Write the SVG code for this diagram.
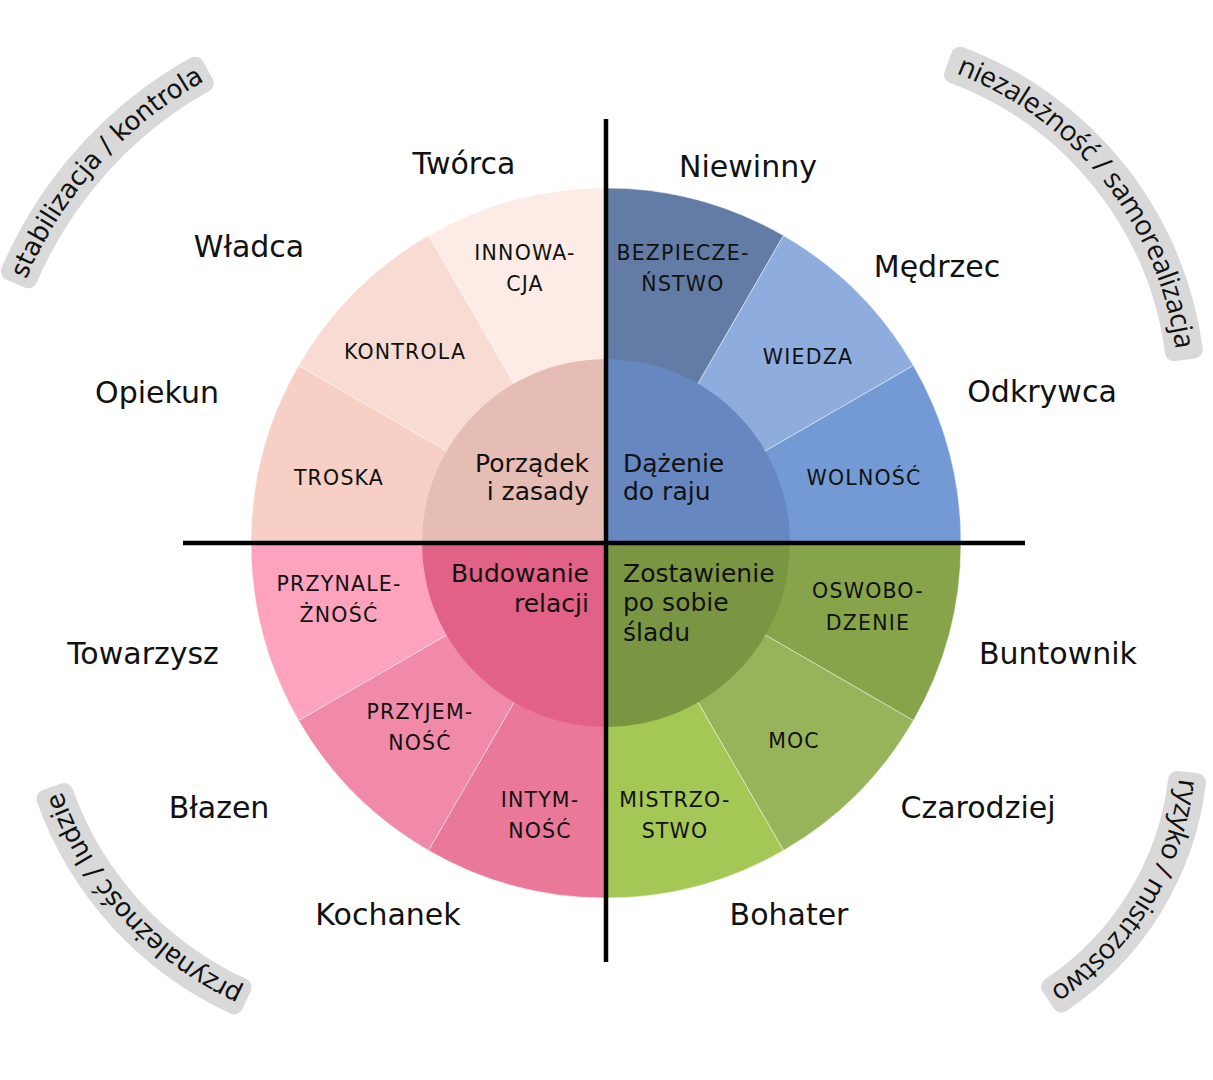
<svg xmlns="http://www.w3.org/2000/svg" width="1213" height="1080" viewBox="0 0 1213 1080">
  <style>
    .w { stroke: #ffffff; stroke-opacity: 0.45; stroke-width: 1; }
    .cap { font-family: "DejaVu Sans", sans-serif; font-size: 20.5px; letter-spacing: 1.2px; text-anchor: middle; fill: #111; }
    .core { font-family: "DejaVu Sans", sans-serif; font-size: 25px; fill: #111; }
    .core.r { text-anchor: end; }
    .arch { font-family: "DejaVu Sans", sans-serif; font-size: 30px; text-anchor: middle; fill: #111; }
    .band { fill: #d9d9d9; stroke: #d9d9d9; stroke-width: 18; stroke-linejoin: round; }
    .bt1 { font-family: "DejaVu Sans", sans-serif; font-size: 26px; fill: #111; }
    .bt2 { font-family: "Open Sans", "Noto Sans", sans-serif; font-size: 28px; fill: #111; }
    .axis { stroke: #000; stroke-width: 4.5; }
  </style>
  <defs>
    <path id="p-ul" d="M 23.0 286.7 A 412 412 0 0 1 211.6 77.2"/>
    <path id="p-ur" d="M 945.5 69.6 A 347 347 0 0 1 1177.0 360.6"/>
    <path id="p-ll" d="M 249.9 992.5 A 342 342 0 0 1 59.5 784.5"/>
    <path id="p-lr" d="M 1180.0 771.5 A 292 292 0 0 1 1043.9 993.1"/>
  </defs>
  <rect width="1213" height="1080" fill="#ffffff"/>

  <!-- curved corner captions -->
  <g id="band-stabilizacja">
    <path class="band" d="M 9.9 271.4 A 430 430 0 0 1 195.0 65.7 L 204.8 83.2 A 410 410 0 0 0 28.3 279.3 Z"/>
    <text class="bt1"><textPath href="#p-ul" startOffset="50%" text-anchor="middle" textLength="272" lengthAdjust="spacing">stabilizacja / kontrola</textPath></text>
  </g>
  <g id="band-niezaleznosc">
    <path class="band" d="M 960.1 55.7 A 365 365 0 0 1 1193.8 349.5 L 1174.0 352.2 A 345 345 0 0 0 953.1 74.4 Z"/>
    <text class="bt2"><textPath href="#p-ur" startOffset="50%" text-anchor="middle" textLength="370" lengthAdjust="spacing">niezależność / samorealizacja</textPath></text>
  </g>
  <g id="band-przynaleznosc">
    <path class="band" d="M 234.3 1005.3 A 360 360 0 0 1 45.4 798.8 L 64.2 792.1 A 340 340 0 0 0 242.7 987.2 Z"/>
    <text class="bt1"><textPath href="#p-ll" startOffset="50%" text-anchor="middle" textLength="276" lengthAdjust="spacing">przynależność / ludzie</textPath></text>
  </g>
  <g id="band-ryzyko">
    <path class="band" d="M 1197.0 782.3 A 310 310 0 0 1 1061.3 1003.4 L 1050.2 986.7 A 290 290 0 0 0 1177.1 780.0 Z"/>
    <text class="bt2"><textPath href="#p-lr" startOffset="50%" text-anchor="middle" textLength="255" lengthAdjust="spacing">ryzyko / mistrzostwo</textPath></text>
  </g>

  <!-- outer ring: upper-left quadrant -->
  <g id="w-innowacja">
    <path class="w" fill="#fdebe6" d="M 606 543 L 428.5 235.6 A 355 355 0 0 1 606 188 Z"/>
    <text class="cap" x="525" y="260">INNOWA-</text>
    <text class="cap" x="525" y="291">CJA</text>
  </g>
  <g id="w-kontrola">
    <path class="w" fill="#f8dbd3" d="M 606 543 L 298.6 365.5 A 355 355 0 0 1 428.5 235.6 Z"/>
    <text class="cap" x="405" y="359">KONTROLA</text>
  </g>
  <g id="w-troska">
    <path class="w" fill="#f7cfc5" d="M 606 543 L 251 543 A 355 355 0 0 1 298.6 365.5 Z"/>
    <text class="cap" x="339" y="485">TROSKA</text>
  </g>

  <!-- outer ring: upper-right quadrant -->
  <g id="w-bezpieczenstwo">
    <path class="w" fill="#627ca6" d="M 606 543 L 606 188 A 355 355 0 0 1 783.5 235.6 Z"/>
    <text class="cap" x="683" y="260">BEZPIECZE-</text>
    <text class="cap" x="683" y="291">ŃSTWO</text>
  </g>
  <g id="w-wiedza">
    <path class="w" fill="#8eacde" d="M 606 543 L 783.5 235.6 A 355 355 0 0 1 913.4 365.5 Z"/>
    <text class="cap" x="808" y="364">WIEDZA</text>
  </g>
  <g id="w-wolnosc">
    <path class="w" fill="#739ad5" d="M 606 543 L 913.4 365.5 A 355 355 0 0 1 961 543 Z"/>
    <text class="cap" x="864" y="485">WOLNOŚĆ</text>
  </g>

  <!-- outer ring: lower-right quadrant -->
  <g id="w-oswobodzenie">
    <path class="w" fill="#87a44b" d="M 606 543 L 961 543 A 355 355 0 0 1 913.4 720.5 Z"/>
    <text class="cap" x="868" y="598">OSWOBO-</text>
    <text class="cap" x="868" y="630">DZENIE</text>
  </g>
  <g id="w-moc">
    <path class="w" fill="#98b45b" d="M 606 543 L 913.4 720.5 A 355 355 0 0 1 783.5 850.4 Z"/>
    <text class="cap" x="794" y="748">MOC</text>
  </g>
  <g id="w-mistrzostwo">
    <path class="w" fill="#a5c756" d="M 606 543 L 783.5 850.4 A 355 355 0 0 1 606 898 Z"/>
    <text class="cap" x="675" y="807">MISTRZO-</text>
    <text class="cap" x="675" y="838">STWO</text>
  </g>

  <!-- outer ring: lower-left quadrant -->
  <g id="w-intymnosc">
    <path class="w" fill="#ea7898" d="M 606 543 L 606 898 A 355 355 0 0 1 428.5 850.4 Z"/>
    <text class="cap" x="540" y="807">INTYM-</text>
    <text class="cap" x="540" y="838">NOŚĆ</text>
  </g>
  <g id="w-przyjemnosc">
    <path class="w" fill="#f18aa8" d="M 606 543 L 428.5 850.4 A 355 355 0 0 1 298.6 720.5 Z"/>
    <text class="cap" x="420" y="719">PRZYJEM-</text>
    <text class="cap" x="420" y="750">NOŚĆ</text>
  </g>
  <g id="w-przynaleznosc">
    <path class="w" fill="#fda3bd" d="M 606 543 L 298.6 720.5 A 355 355 0 0 1 251 543 Z"/>
    <text class="cap" x="339" y="591">PRZYNALE-</text>
    <text class="cap" x="339" y="622">ŻNOŚĆ</text>
  </g>

  <!-- inner core quadrants -->
  <g id="core-porzadek">
    <path fill="#e5bdb5" d="M 606 543 L 422 543 A 184 184 0 0 1 606 359 Z"/>
    <text class="core r" x="589" y="472">Porządek</text>
    <text class="core r" x="589" y="500">i zasady</text>
  </g>
  <g id="core-dazenie">
    <path fill="#6687c0" d="M 606 543 L 606 359 A 184 184 0 0 1 790 543 Z"/>
    <text class="core" x="623" y="472">Dążenie</text>
    <text class="core" x="623" y="500">do raju</text>
  </g>
  <g id="core-zostawienie">
    <path fill="#7b9642" d="M 606 543 L 790 543 A 184 184 0 0 1 606 727 Z"/>
    <text class="core" x="623" y="582">Zostawienie</text>
    <text class="core" x="623" y="611">po sobie</text>
    <text class="core" x="623" y="641">śladu</text>
  </g>
  <g id="core-budowanie">
    <path fill="#e26186" d="M 606 543 L 606 727 A 184 184 0 0 1 422 543 Z"/>
    <text class="core r" x="589" y="582">Budowanie</text>
    <text class="core r" x="589" y="612">relacji</text>
  </g>

  <!-- archetype names around the wheel -->
  <g id="archetypes">
    <text id="a-tworca" class="arch" x="464" y="174">Twórca</text>
    <text id="a-wladca" class="arch" x="249" y="257">Władca</text>
    <text id="a-opiekun" class="arch" x="157" y="403">Opiekun</text>
    <text id="a-niewinny" class="arch" x="748" y="177">Niewinny</text>
    <text id="a-medrzec" class="arch" x="937" y="277">Mędrzec</text>
    <text id="a-odkrywca" class="arch" x="1042" y="402">Odkrywca</text>
    <text id="a-towarzysz" class="arch" x="143" y="664">Towarzysz</text>
    <text id="a-blazen" class="arch" x="219" y="818">Błazen</text>
    <text id="a-kochanek" class="arch" x="388" y="925">Kochanek</text>
    <text id="a-buntownik" class="arch" x="1058" y="664">Buntownik</text>
    <text id="a-czarodziej" class="arch" x="978" y="818">Czarodziej</text>
    <text id="a-bohater" class="arch" x="789" y="925">Bohater</text>
  </g>

  <!-- axes -->
  <g id="connectors">
    <line class="axis" x1="183" y1="543" x2="1025" y2="543"/>
    <line class="axis" x1="606" y1="119" x2="606" y2="962"/>
  </g>
</svg>
